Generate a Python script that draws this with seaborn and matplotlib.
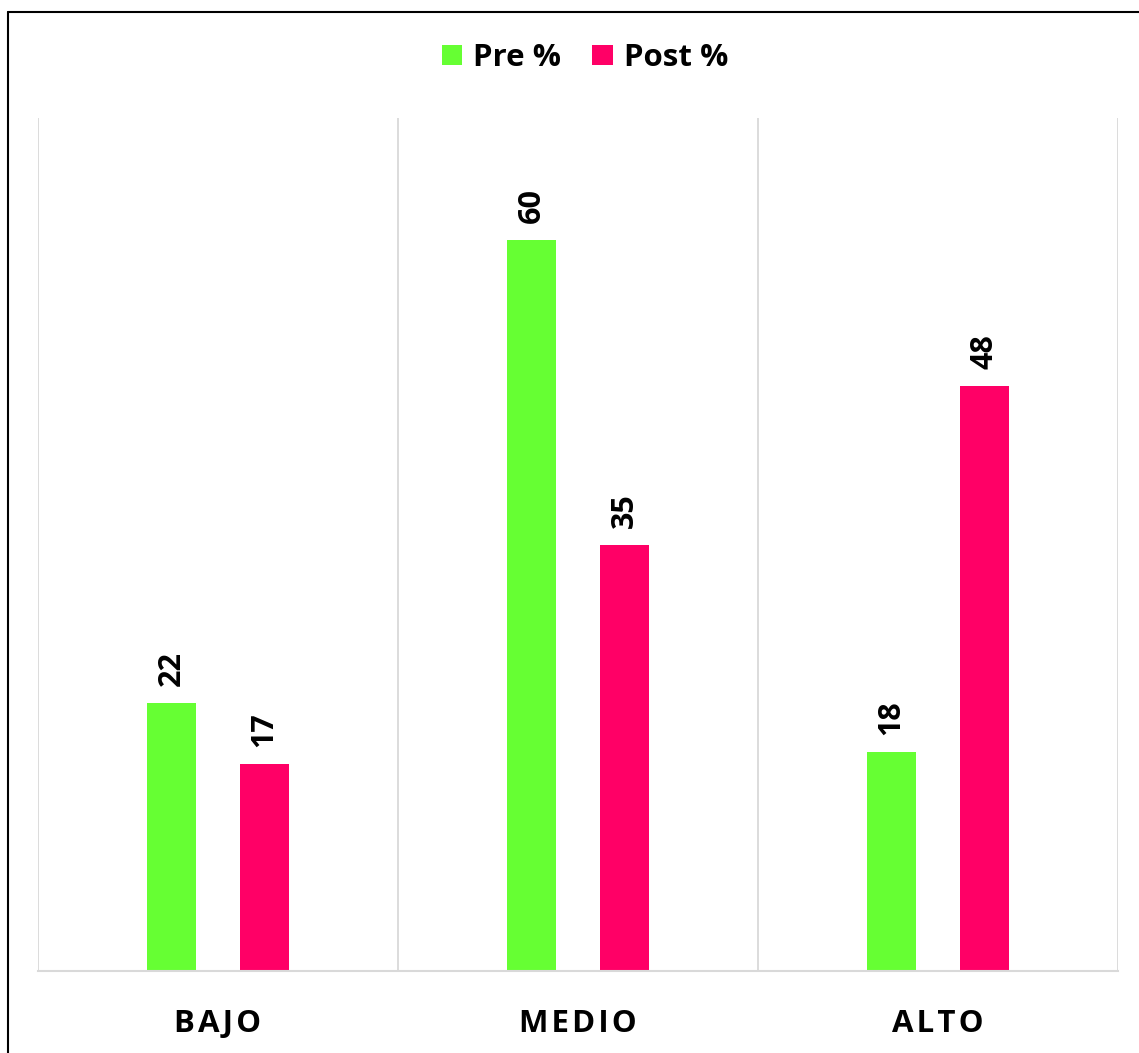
import matplotlib
matplotlib.use("Agg")
import matplotlib.pyplot as plt
import seaborn as sns
import pandas as pd
from matplotlib.lines import Line2D
from matplotlib.patches import Patch

categories = ["BAJO", "MEDIO", "ALTO"]
pre_values = [22, 60, 18]
post_values = [17, 35, 48]
series_names = ["Pre %", "Post %"]
colors = ["#66FF33", "#FF0066"]

df = pd.DataFrame({
    "nivel": categories * 2,
    "valor": pre_values + post_values,
    "serie": [series_names[0]] * 3 + [series_names[1]] * 3,
})

sns.set_theme(style="white")
plt.rcParams["font.family"] = ["Open Sans", "DejaVu Sans"]
plt.rcParams["text.color"] = "black"

W, H = 1139, 1053
fig = plt.figure(figsize=(W / 100, H / 100), dpi=100)
ax = fig.add_axes([38 / W, (H - 971) / H, (1118 - 38) / W, (971 - 118) / H])

sns.barplot(data=df, x="nivel", y="valor", hue="serie", order=categories,
            hue_order=series_names, palette=colors, width=0.517, gap=0.47,
            ax=ax, legend=False, saturation=1, linewidth=0)

ax.set_ylim(0, 70)
ax.set_xlim(-0.5, 2.5)
ax.set_yticks([])
ax.set_xlabel("")
ax.set_ylabel("")

# vertical separators between categories
for xb in [-0.5, 0.5, 1.5, 2.5]:
    ax.axvline(xb, color="#d9d9d9", lw=1.3, zorder=0)
for s in ["top", "left", "right"]:
    ax.spines[s].set_visible(False)
ax.spines["bottom"].set_color("#d9d9d9")
ax.spines["bottom"].set_linewidth(1.5)

ax.set_xticks(range(3))
ax.set_xticklabels(["\u200a".join(c) for c in categories], fontsize=22.5,
                   fontweight="bold", color="black")
ax.tick_params(axis="x", length=0, pad=27)

# value labels above bars
for container in ax.containers:
    for bar in container:
        h = bar.get_height()
        ax.annotate(f"{h:.0f}", (bar.get_x() + bar.get_width() / 2, h),
                    xytext=(0, 12), textcoords="offset points",
                    rotation=90, ha="center", va="bottom",
                    fontsize=22, fontweight="bold", color="black")

handles = [Patch(facecolor=c, edgecolor="none") for c in colors]
fig.legend(handles, series_names, loc="center", bbox_to_anchor=(585 / W, 1 - 58 / H),
           ncol=2, frameon=False, prop={"size": 22.5, "weight": "bold"},
           labelcolor="black", handlelength=0.65, handleheight=0.65,
           handletextpad=0.35, columnspacing=1.0)

# outer frame (top and left edges visible)
fig.add_artist(Line2D([8 / W, 1.0], [1 - 12 / H, 1 - 12 / H], color="black",
                      lw=1.5, transform=fig.transFigure))
fig.add_artist(Line2D([8 / W, 8 / W], [0, 1 - 12 / H], color="black",
                      lw=1.5, transform=fig.transFigure))

fig.savefig("out.png", dpi=100)
